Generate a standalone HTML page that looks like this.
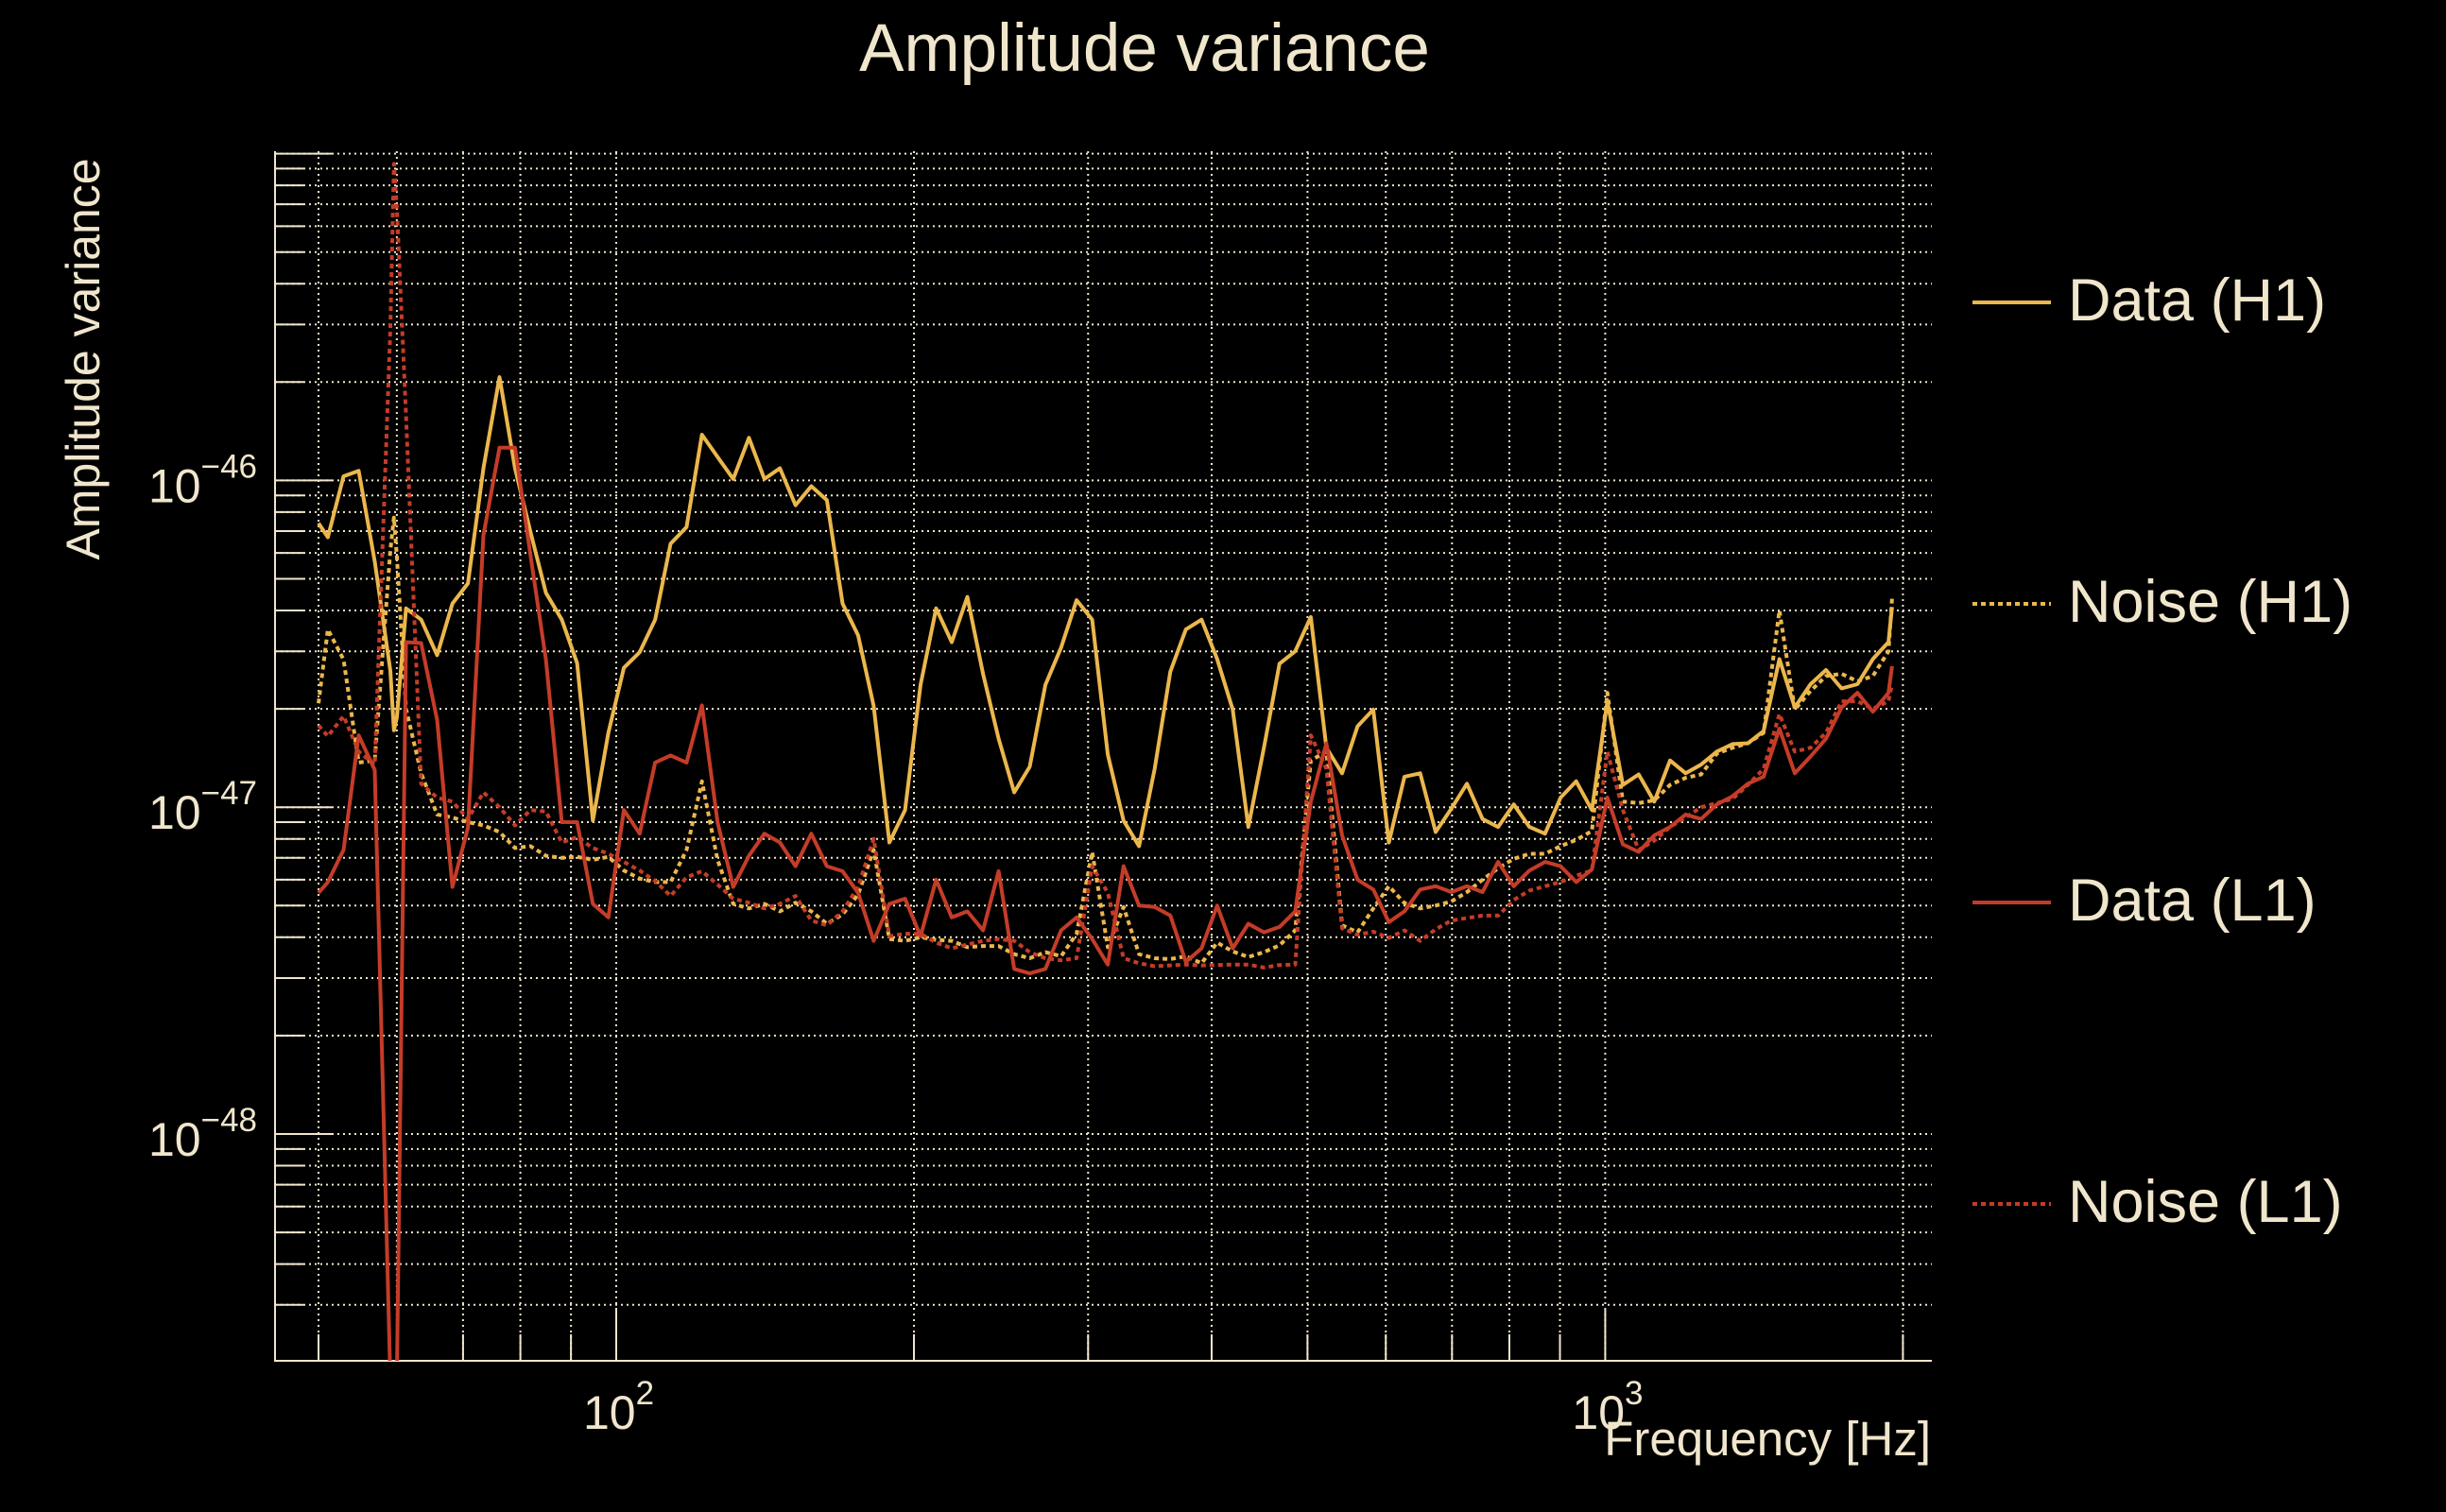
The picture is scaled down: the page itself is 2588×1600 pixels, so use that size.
<!DOCTYPE html>
<html><head><meta charset="utf-8"><title>Amplitude variance</title>
<style>
html,body{margin:0;padding:0;background:#000;overflow:hidden;width:2588px;height:1600px;}
svg{display:block;font-family:"Liberation Sans",Arial,sans-serif;}
</style></head>
<body>
<svg id="chart" width="2588" height="1600" viewBox="0 0 2588 1600" xmlns="http://www.w3.org/2000/svg" overflow="hidden">
<rect x="0" y="0" width="2588" height="1600" fill="#000"/>
<defs><clipPath id="plotclip"><rect x="291" y="160" width="1753" height="1280"/></clipPath></defs>
<text x="1211" y="75" font-size="71" fill="#f0e6cc" text-anchor="middle">Amplitude variance</text>
<text transform="translate(105,380) rotate(-90)" font-size="50" fill="#f0e6cc" text-anchor="middle">Amplitude variance</text>
<text x="2043" y="1540" font-size="51" fill="#f0e6cc" text-anchor="end">Frequency [Hz]</text>
<g id="grid"></g>
<g id="axes"></g>
<g id="series" clip-path="url(#plotclip)"></g>
<g id="legend"></g>
</svg>
<script>
const freqs = [
50, 51.1, 53.0, 54.9, 57.0, 59.1, 59.6, 60.0, 61.3, 63.5,
65.9, 68.3, 70.8, 73.4, 76.2, 79.0, 81.9, 84.9, 88.1, 91.3,
94.7, 98.2, 101.8, 105.6, 109.5, 113.5, 117.8, 122.1, 126.6, 131.3,
136.2, 141.2, 146.4, 151.8, 157.5, 163.3, 169.4, 175.6, 182.1, 188.9,
195.9, 203.1, 210.6, 218.4, 226.5, 234.9, 243.6, 252.6, 261.9, 271.6,
281.7, 292.1, 302.9, 314.1, 325.8, 337.8, 350.3, 363.3, 376.7, 390.7,
405.1, 420.1, 435.7, 451.8, 468.5, 485.9, 503.9, 522.5, 541.9, 561.9,
582.7, 604.3, 626.7, 649.9, 673.9, 698.9, 724.7, 751.6, 779.4, 808.2,
838.2, 869.2, 901.4, 934.7, 969.4, 1005, 1042, 1081, 1121, 1163,
1206, 1250, 1297, 1345, 1394, 1446, 1500, 1555, 1613, 1672,
1734, 1799, 1865, 1934, 1950];
const dataH1 = [
7.4e-47, 6.7e-47, 1.03e-46, 1.07e-46, 5.65e-47, 2.62e-47, 1.72e-47, 1.88e-47, 4.06e-47, 3.75e-47,
2.92e-47, 4.2e-47, 4.84e-47, 1.09e-46, 2.07e-46, 1.09e-46, 6.95e-47, 4.53e-47, 3.75e-47, 2.76e-47,
9.1e-48, 1.69e-47, 2.67e-47, 2.98e-47, 3.75e-47, 6.4e-47, 7.2e-47, 1.38e-46, 1.18e-46, 1.01e-46,
1.35e-46, 1.01e-46, 1.09e-46, 8.4e-47, 9.6e-47, 8.7e-47, 4.2e-47, 3.36e-47, 2.04e-47, 7.8e-48,
9.8e-48, 2.37e-47, 4.06e-47, 3.2e-47, 4.4e-47, 2.56e-47, 1.62e-47, 1.11e-47, 1.33e-47, 2.37e-47,
3.08e-47, 4.3e-47, 3.75e-47, 1.45e-47, 9.1e-48, 7.6e-48, 1.31e-47, 2.6e-47, 3.5e-47, 3.75e-47,
2.84e-47, 1.99e-47, 8.7e-48, 1.52e-47, 2.75e-47, 3.0e-47, 3.82e-47, 1.52e-47, 1.27e-47, 1.77e-47,
1.99e-47, 7.8e-48, 1.24e-47, 1.27e-47, 8.4e-48, 9.9e-48, 1.18e-47, 9.2e-48, 8.7e-48, 1.02e-47,
8.7e-48, 8.3e-48, 1.07e-47, 1.2e-47, 9.8e-48, 2.11e-47, 1.17e-47, 1.26e-47, 1.04e-47, 1.39e-47,
1.27e-47, 1.35e-47, 1.48e-47, 1.56e-47, 1.57e-47, 1.71e-47, 2.84e-47, 2.02e-47, 2.38e-47, 2.63e-47,
2.31e-47, 2.38e-47, 2.84e-47, 3.2e-47, 4.1e-47];
const noiseH1 = [
2.08e-47, 3.5e-47, 2.83e-47, 1.37e-47, 1.39e-47, 6.1e-47, 7.7e-47, 5.85e-47, 2.0e-47, 1.27e-47,
9.5e-48, 9.3e-48, 9.0e-48, 8.8e-48, 8.4e-48, 7.5e-48, 7.6e-48, 7.1e-48, 7.0e-48, 7.05e-48,
6.9e-48, 7.05e-48, 6.4e-48, 6.05e-48, 5.9e-48, 5.9e-48, 7.4e-48, 1.2e-47, 6.9e-48, 5.06e-48,
4.9e-48, 5.06e-48, 4.8e-48, 5.1e-48, 4.8e-48, 4.4e-48, 4.7e-48, 5.4e-48, 7.4e-48, 3.95e-48,
3.9e-48, 4.0e-48, 3.93e-48, 3.9e-48, 3.73e-48, 3.76e-48, 3.76e-48, 3.55e-48, 3.45e-48, 3.6e-48,
3.5e-48, 4.1e-48, 7.3e-48, 3.73e-48, 4.95e-48, 3.55e-48, 3.45e-48, 3.43e-48, 3.5e-48, 3.33e-48,
3.85e-48, 3.62e-48, 3.48e-48, 3.6e-48, 3.78e-48, 4.2e-48, 1.39e-47, 1.48e-47, 4.35e-48, 4.14e-48,
4.9e-48, 5.73e-48, 5.09e-48, 4.9e-48, 5.0e-48, 5.15e-48, 5.5e-48, 6.0e-48, 6.5e-48, 6.95e-48,
7.2e-48, 7.2e-48, 7.6e-48, 7.95e-48, 8.45e-48, 2.24e-47, 1.04e-47, 1.03e-47, 1.05e-47, 1.17e-47,
1.23e-47, 1.26e-47, 1.46e-47, 1.52e-47, 1.57e-47, 1.69e-47, 4.0e-47, 1.99e-47, 2.27e-47, 2.52e-47,
2.56e-47, 2.43e-47, 2.52e-47, 3.0e-47, 4.36e-47];
const dataL1 = [
5.47e-48, 5.9e-48, 7.4e-48, 1.66e-47, 1.3e-47, 1e-50, 1e-50, 1e-50, 3.2e-47, 3.18e-47,
1.85e-47, 5.7e-48, 8.65e-48, 6.8e-47, 1.26e-46, 1.26e-46, 5.9e-47, 2.83e-47, 9.0e-48, 9.0e-48,
5.06e-48, 4.6e-48, 9.8e-48, 8.3e-48, 1.37e-47, 1.44e-47, 1.37e-47, 2.05e-47, 9.0e-48, 5.7e-48,
7.1e-48, 8.3e-48, 7.8e-48, 6.6e-48, 8.3e-48, 6.6e-48, 6.37e-48, 5.47e-48, 3.9e-48, 5.06e-48,
5.25e-48, 4.03e-48, 6.0e-48, 4.6e-48, 4.8e-48, 4.2e-48, 6.37e-48, 3.2e-48, 3.1e-48, 3.2e-48,
4.2e-48, 4.6e-48, 3.95e-48, 3.3e-48, 6.6e-48, 5.0e-48, 4.95e-48, 4.66e-48, 3.36e-48, 3.7e-48,
5.0e-48, 3.7e-48, 4.4e-48, 4.14e-48, 4.3e-48, 4.8e-48, 1.04e-47, 1.57e-47, 8.2e-48, 6.0e-48,
5.6e-48, 4.45e-48, 4.8e-48, 5.6e-48, 5.73e-48, 5.5e-48, 5.73e-48, 5.5e-48, 6.8e-48, 5.73e-48,
6.4e-48, 6.8e-48, 6.6e-48, 5.9e-48, 6.45e-48, 1.07e-47, 7.7e-48, 7.3e-48, 8.2e-48, 8.7e-48,
9.5e-48, 9.2e-48, 1.02e-47, 1.08e-47, 1.18e-47, 1.24e-47, 1.74e-47, 1.27e-47, 1.43e-47, 1.62e-47,
2.02e-47, 2.24e-47, 1.96e-47, 2.24e-47, 2.7e-47];
const noiseL1 = [
1.78e-47, 1.65e-47, 1.9e-47, 1.48e-47, 1.35e-47, 2.9e-46, 9.3e-46, 6.8e-46, 1.58e-46, 1.18e-47,
1.07e-47, 1.04e-47, 9.2e-48, 1.11e-47, 1.0e-47, 8.8e-48, 9.8e-48, 9.7e-48, 7.8e-48, 8.1e-48,
7.5e-48, 7.2e-48, 6.8e-48, 6.4e-48, 5.95e-48, 5.35e-48, 6.1e-48, 6.37e-48, 5.8e-48, 5.25e-48,
5.1e-48, 4.9e-48, 5.06e-48, 5.35e-48, 4.5e-48, 4.35e-48, 4.8e-48, 5.7e-48, 8.0e-48, 4.03e-48,
4.1e-48, 4.1e-48, 3.85e-48, 3.7e-48, 3.8e-48, 3.9e-48, 3.95e-48, 3.9e-48, 3.6e-48, 3.45e-48,
3.4e-48, 3.45e-48, 6.6e-48, 5.47e-48, 3.45e-48, 3.33e-48, 3.26e-48, 3.28e-48, 3.3e-48, 3.28e-48,
3.29e-48, 3.3e-48, 3.3e-48, 3.23e-48, 3.29e-48, 3.3e-48, 1.66e-47, 1.31e-47, 4.26e-48, 4.07e-48,
4.16e-48, 3.98e-48, 4.2e-48, 3.9e-48, 4.23e-48, 4.5e-48, 4.58e-48, 4.66e-48, 4.66e-48, 5.2e-48,
5.56e-48, 5.73e-48, 5.9e-48, 6.17e-48, 6.4e-48, 1.48e-47, 9.8e-48, 7.4e-48, 7.9e-48, 8.7e-48,
9.3e-48, 1.0e-47, 1.03e-47, 1.06e-47, 1.17e-47, 1.31e-47, 1.93e-47, 1.48e-47, 1.52e-47, 1.69e-47,
2.11e-47, 2.11e-47, 2.0e-47, 2.11e-47, 2.38e-47];
const yTickExps = [-46, -47, -48];
const xTickExps = [2, 3];
const seriesNames = ["Data (H1)", "Noise (H1)", "Data (L1)", "Noise (L1)"];

const NS = "http://www.w3.org/2000/svg";
const PL = 291, PR = 2044, PT = 160, PB = 1440;
const X0 = 652, XDEC = 1046.4;
const Y0 = 508.4, YDEC = 345.8;
function xs(f){ return X0 + XDEC*(Math.log10(f) - 2); }
function ys(v){ return Y0 - YDEC*(Math.log10(v) + 46); }
const CREAM = "#f0e6cc", GOLD = "#ebb74c", RED = "#c43c28";
function mk(tag, attrs, parent){
  const e = document.createElementNS(NS, tag);
  for (const k in attrs) e.setAttribute(k, attrs[k]);
  parent.appendChild(e); return e;
}
const grid = document.getElementById('grid');
const axes = document.getElementById('axes');
for (let p = -49; p <= -45; p++) {
  for (let k = 1; k <= 9; k++) {
    const y = ys(k*Math.pow(10,p));
    if (y < PT || y > PB) continue;
    const gl = mk('line', {x1:PL, x2:PR, y1:y, y2:y, stroke:CREAM, 'stroke-width':2, 'stroke-dasharray':'2,4'}, grid);
    
    
    const tk = mk('line', {x1:PL, x2:PL + (k===1?60:30), y1:y, y2:y, stroke:CREAM, 'stroke-width':2}, axes);
    
    
  }
}
for (let p = 1; p <= 3; p++) {
  for (let k = 1; k <= 9; k++) {
    const x = xs(k*Math.pow(10,p));
    if (x < PL || x > PR) continue;
    const gl = mk('line', {x1:x, x2:x, y1:PT, y2:PB, stroke:CREAM, 'stroke-width':2, 'stroke-dasharray':'2,4'}, grid);
    
    
    const tk = mk('line', {x1:x, x2:x, y1:PB, y2:PB - (k===1?54:28), stroke:CREAM, 'stroke-width':2}, axes);
    
    
  }
}
const ls = mk('line', {x1:PL, x2:PL, y1:PT, y2:PB+1, stroke:CREAM, 'stroke-width':2}, axes);


const bs = mk('line', {x1:PL, x2:PR, y1:PB, y2:PB, stroke:CREAM, 'stroke-width':2}, axes);


yTickExps.forEach(e => {
  const y = ys(Math.pow(10, e));
  const t = mk('text', {x:272, y:y+23, 'font-size':50, fill:CREAM, 'text-anchor':'end'}, axes);
  
  
  const a = mk('tspan', {}, t); a.textContent = '10';
  const b = mk('tspan', {dy:-26, 'font-size':35}, t); b.textContent = '\u2212' + Math.abs(e);
});
xTickExps.forEach(e => {
  const x = xs(Math.pow(10, e));
  const t = mk('text', {x:x-35, y:1512, 'font-size':50, fill:CREAM}, axes);
  
  
  const a = mk('tspan', {}, t); a.textContent = '10';
  const b = mk('tspan', {dy:-26, 'font-size':35}, t); b.textContent = String(e);
});
const sg = document.getElementById('series');
const seriesVals = [dataH1, noiseH1, dataL1, noiseL1];
const seriesColors = [GOLD, GOLD, RED, RED];
const seriesDash = [null, '5,4', null, '5,4'];
const seriesIds = ['data-h1-line', 'noise-h1-line', 'data-l1-line', 'noise-l1-line'];
seriesVals.forEach((vals, i) => {
  const d = vals.map((v, j) => (j ? 'L' : 'M') + xs(freqs[j]).toFixed(1) + ',' + Math.min(ys(v), PB + 20).toFixed(1)).join(' ');
  const attrs = {d:d, fill:'none', stroke:seriesColors[i], 'stroke-width':4, 'stroke-linejoin':'round'};
  if (seriesDash[i]) attrs['stroke-dasharray'] = seriesDash[i];
  const p = mk('path', attrs, sg);
  
  
});
const lg = document.getElementById('legend');
const legendY = [320, 639, 955, 1274];
seriesNames.forEach((n, i) => {
  const g = mk('g', {}, lg);
  
  
  const la = {x1:2087, x2:2170, y1:legendY[i], y2:legendY[i], stroke:seriesColors[i], 'stroke-width':4};
  if (seriesDash[i]) la['stroke-dasharray'] = '5,4';
  const l = mk('line', la, g);
  
  
  const t = mk('text', {x:2188, y:legendY[i]+19, 'font-size':63, fill:CREAM}, g);
  
  
  t.textContent = n;
});
</script>
</body></html>
